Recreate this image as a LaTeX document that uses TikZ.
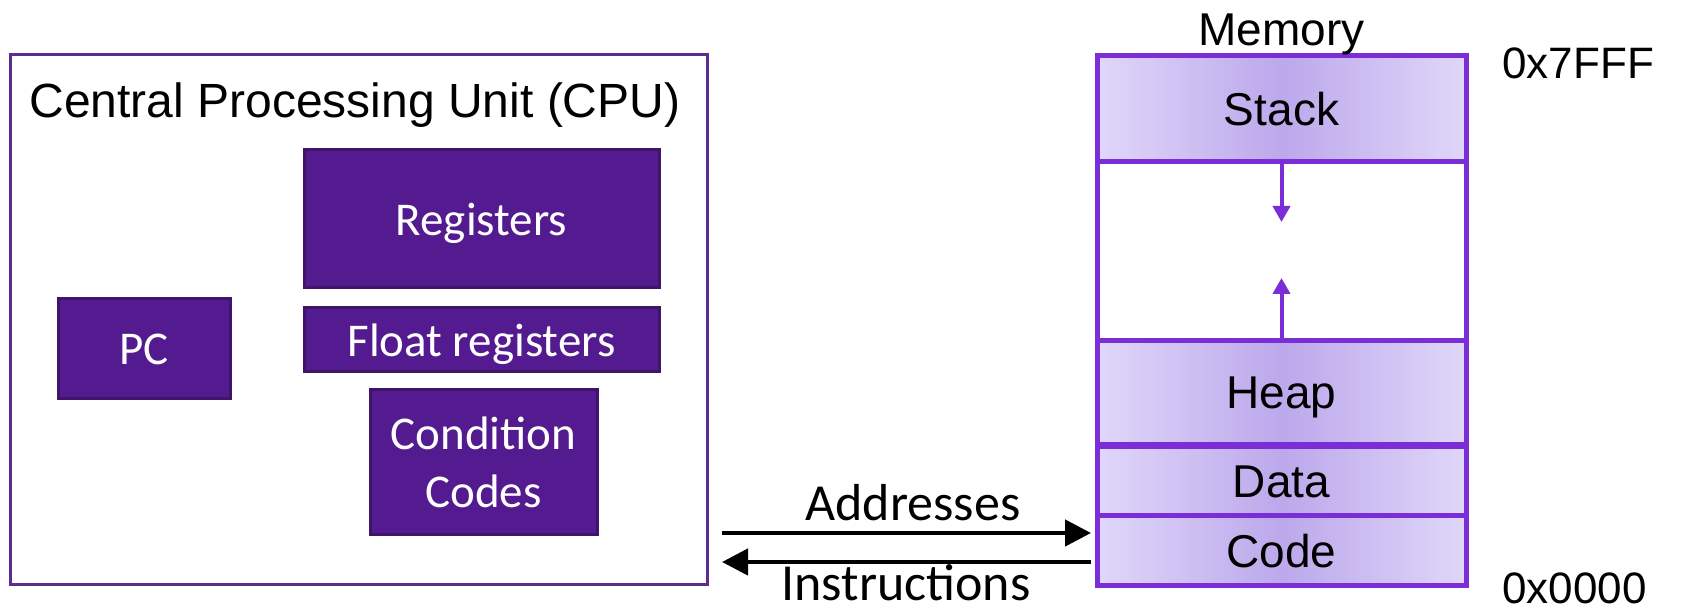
\documentclass[tikz,border=0pt]{standalone}
\usepackage{fontspec}
\setmainfont{Liberation Sans}
\newfontfamily\calibri{Carlito}
\usetikzlibrary{arrows.meta}
\definecolor{cpuborder}{RGB}{92,44,145}
\definecolor{boxfill}{RGB}{83,27,143}
\definecolor{boxline}{RGB}{62,21,104}
\definecolor{memline}{RGB}{123,45,214}
\definecolor{memedge}{RGB}{224,215,250}
\definecolor{memmid}{RGB}{188,168,235}
\tikzset{
  cpubox/.style={draw=boxline, fill=boxfill, line width=1.5pt, inner sep=0pt,
    text=white, font=\calibri\fontsize{23.5pt}{29pt}\selectfont, align=center,
    text depth=0pt},
  memseg/.style={draw=memline, line width=2.5pt, inner sep=0pt, text depth=0pt,
    minimum width=184.5pt, font=\fontsize{23pt}{27pt}\selectfont},
  memshade/.style={left color=memedge, right color=memedge, middle color=memmid},
  bigarrow/.style={line width=2.25pt, -{Triangle[length=13pt,width=13pt]}},
  memarrow/.style={draw=memline, line width=2pt, -{Triangle[length=8pt,width=8.5pt]}},
  lbl/.style={inner sep=0pt, anchor=base},
}
\begin{document}
\begin{tikzpicture}[x=0.5pt,y=-0.5pt]
\useasboundingbox (0,0) rectangle (1681,613);
% CPU
\node[draw=cpuborder, line width=1.5pt, minimum width=348.5pt, minimum height=265pt, inner sep=0pt] (cpu) at (358.5,320) {};
\node[lbl, font=\fontsize{24pt}{28pt}\selectfont] (title) at (355,118) {Central Processing Unit (CPU)};
\node[cpubox, minimum width=177.5pt, minimum height=69pt] (reg) at (481.5,219) {Registers};
\node[cpubox, minimum width=177.5pt, minimum height=32pt] (freg) at (481.5,340) {Float registers};
\node[cpubox, minimum width=86pt, minimum height=50pt] (pc) at (144,349) {PC};
\node[cpubox, minimum width=113.5pt, minimum height=72.5pt] (cc) at (483.5,462.5) {Condition\\Codes};
% Memory
\node[memseg, memshade, minimum height=53pt] (stack) at (1281.5,109) {Stack};
\node[memseg, fill=white, minimum height=89.5pt] (gap) at (1281.5,251.5) {};
\node[memseg, memshade, minimum height=52pt] (heap) at (1281.5,393) {Heap};
\node[memseg, memshade, minimum height=34.5pt] (data) at (1281.5,481.5) {Data};
\node[memseg, memshade, minimum height=35pt] (code) at (1281.5,551) {Code};
\node[lbl, font=\fontsize{23pt}{27pt}\selectfont] (memlbl) at (1281.5,46) {Memory};
\node[lbl, anchor=base west, font=\fontsize{22pt}{26pt}\selectfont] (hi) at (1502,79) {0x7FFF};
\node[lbl, anchor=base west, font=\fontsize{22pt}{26pt}\selectfont] (lo) at (1502,604) {0x0000};
% stack / heap growth arrows
\coordinate (sdn) at (1281.5,222);
\coordinate (hup) at (1281.5,278);
\draw[memarrow] (stack.south) -- (sdn);
\draw[memarrow] (heap.north) -- (hup);
% bus arrows
\coordinate (aS) at (722,533);
\coordinate (aE) at (1091,533);
\coordinate (iS) at (1091,562);
\coordinate (iE) at (722,562);
\draw[bigarrow] (aS) -- (aE);
\draw[bigarrow] (iS) -- (iE);
\node[lbl, font=\calibri\fontsize{26pt}{30pt}\selectfont] (addr) at (913,521) {Addresses};
\node[lbl, font=\calibri\fontsize{26pt}{30pt}\selectfont] (instr) at (906,601) {Instructions};
\end{tikzpicture}
\end{document}
